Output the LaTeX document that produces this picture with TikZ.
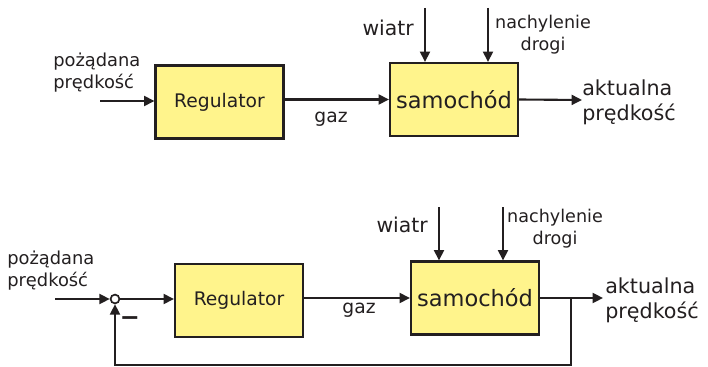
\documentclass[tikz,border=0pt]{standalone}
\usepackage{fontspec}
\setmainfont{DejaVu Sans}
\usepackage{xcolor}
\usetikzlibrary{arrows.meta,positioning,calc}

\definecolor{ciemny}{RGB}{35,31,32}
\definecolor{zolty}{RGB}{255,244,140}
\newcommand{\fs}[2]{\fontsize{#1}{#2}\selectfont}

\begin{document}
\begin{tikzpicture}[
    x=0.025cm, y=-0.025cm,
    blok/.style={rectangle, draw=ciemny, line width=1.5pt, fill=zolty, text=ciemny, inner sep=0pt, minimum width=3.2cm, minimum height=1.825cm, align=center},
    opis/.style={text=ciemny, inner sep=0pt, align=left, font=\fs{12.7}{15.6}},
    wyjscie/.style={text=ciemny, inner sep=0pt, align=left, font=\fs{14.7}{17.8}},
    sumator/.style={circle, draw=ciemny, line width=1.2pt, fill=white, minimum size=0.22cm, inner sep=0pt},
    linia/.style={draw=ciemny, line width=1.5pt},
    strzalka/.style={linia, -{Triangle[length=2.6mm, width=2.5mm]}}
]
\useasboundingbox (0,0) rectangle (708,367);

% bez sprzezenia zwrotnego
\node[blok, font=\fs{13.3}{16}] (reg1) at (219.5,102) {Regulator};
\node[blok, font=\fs{16}{19}] (sam1) at (454,99.5) {samochód};
\coordinate (we1) at (100,101);
\coordinate (wy1) at (582,100);
\coordinate (wiatr1) at (425,8);
\coordinate (droga1) at (488,8);
\draw[strzalka] (we1) -- (we1 -| reg1.west);
\draw[strzalka] (reg1.east |- sam1) -- (sam1.west);
\draw[strzalka] (sam1.east) -- (wy1);
\draw[strzalka] (wiatr1) -- (wiatr1 |- sam1.north);
\draw[strzalka] (droga1) -- (droga1 |- sam1.north);
\node[opis, anchor=west] (zad1) at (53,73) {pożądana\\prędkość};
\node[opis, anchor=base, font=\fs{13.3}{16}] (gaz1) at (331,122) {gaz};
\node[opis, anchor=east, font=\fs{14.5}{17}] (wl1) at (414,28) {wiatr};
\node[opis, align=center, font=\fs{12.5}{15.6}] (nl1) at (543,34.5) {nachylenie\\drogi};
\node[wyjscie, anchor=west] (akt1) at (582,102.5) {aktualna\\prędkość};

% ze sprzezeniem zwrotnym
\node[sumator] (sum) at (115,299) {};
\node[blok, font=\fs{13.3}{16}] (reg2) at (239,300.5) {Regulator};
\node[blok, font=\fs{16}{19}] (sam2) at (475,298) {samochód};
\coordinate (we2) at (55,299);
\coordinate (wy2) at (603,298);
\coordinate (wezel) at (571,298);
\coordinate (dol) at (115,365);
\coordinate (wiatr2) at (439,207);
\coordinate (droga2) at (503,207);
\draw[strzalka] (we2) -- (sum);
\draw[strzalka] (sum) -- (sum -| reg2.west);
\draw[strzalka] (reg2.east |- sam2) -- (sam2.west);
\draw[strzalka] (sam2.east) -- (wy2);
\draw[strzalka] (wiatr2) -- (wiatr2 |- sam2.north);
\draw[strzalka] (droga2) -- (droga2 |- sam2.north);
\draw[strzalka] (wezel) |- (dol) -- (sum);
\node[opis, anchor=west] (zad2) at (7,271) {pożądana\\prędkość};
\node[opis, anchor=base, font=\fs{13.3}{16}] (gaz2) at (359,313) {gaz};
\node[opis, font=\bfseries\fs{17}{20}] (minus) at (130,321) {−};
\node[opis, anchor=east, font=\fs{14.5}{17}] (wl2) at (428,225) {wiatr};
\node[opis, align=center, font=\fs{12.5}{15.6}] (nl2) at (555,229) {nachylenie\\drogi};
\node[wyjscie, anchor=west] (akt2) at (605,300) {aktualna\\prędkość};
\end{tikzpicture}
\end{document}
